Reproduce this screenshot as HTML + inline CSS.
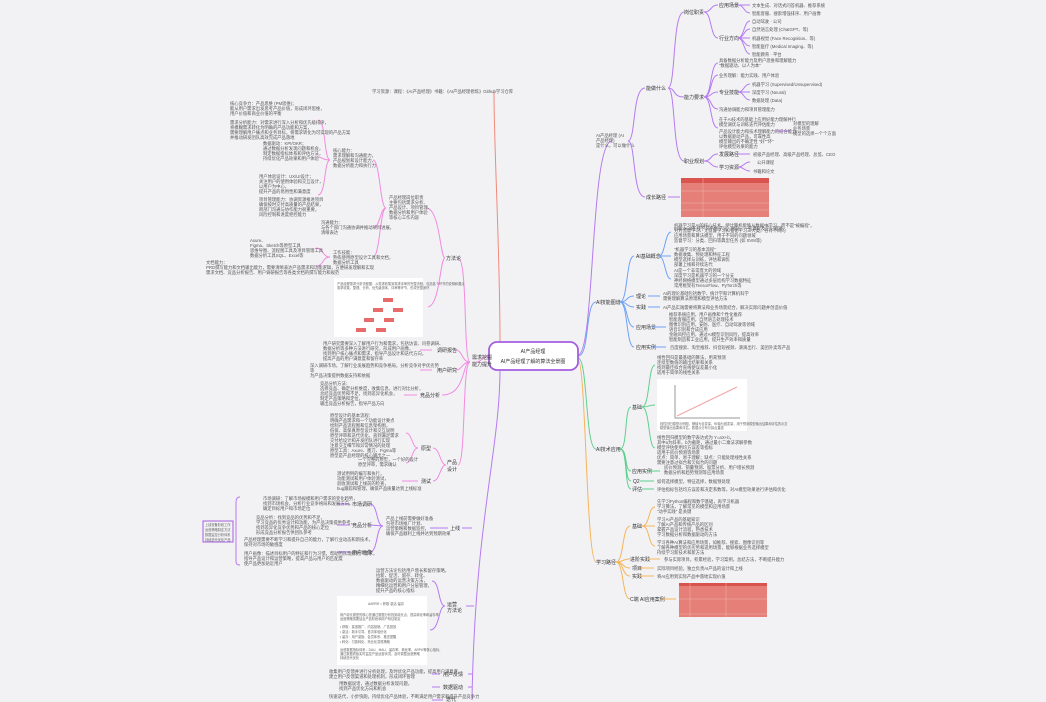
<!DOCTYPE html>
<html><head><meta charset="utf-8"><style>
html,body{margin:0;padding:0;background:#f2f2f5;}
svg{display:block}
.t{font-family:"Liberation Sans","Noto Sans CJK SC",sans-serif;font-size:8.6px;fill:#555}
.s{font-family:"Liberation Sans","Noto Sans CJK SC",sans-serif;font-size:6.4px;fill:#666}
.n{font-family:"Liberation Sans","Noto Sans CJK SC",sans-serif;font-size:10px;fill:#333}
path{fill:none;stroke-width:1}
.p{stroke:#b57bf0}.k{stroke:#f28be0}.b{stroke:#6fa3f5}.g{stroke:#5fd08e}.o{stroke:#f5b55a}.r{stroke:#f08a7a}
</style></head><body>
<svg width="1046" height="702" viewBox="0 0 1046 702" xmlns="http://www.w3.org/2000/svg">
<path class="r" d="M500 343 C500 250 494 150 494 92" stroke-width="1.3"/>
<path class="p" d="M578 355 C595 355 590 141 612 141" stroke-width="1.3"/>
<path class="b" d="M578 356 C590 356 585 302 596 302" stroke-width="1.3"/>
<path class="g" d="M578 358 C588 358 585 449 596 449" stroke-width="1.3"/>
<path class="o" d="M578 360 C586 360 586 562 596 562" stroke-width="1.3"/>
<path class="k" d="M490 356 C482 356 482 362 476 362" stroke-width="1.3"/>
<path class="p" d="M500 369 C500 450 475 520 472 700" stroke-width="1.3"/>
<rect x="489" y="342" width="89" height="28" rx="8" fill="#fff" stroke="#a55ee0" stroke-width="1.8"/>
<text class="n" text-anchor="middle" transform="translate(533,353) scale(.5)">AI产品经理</text>
<text class="n" text-anchor="middle" transform="translate(533,363) scale(.5)">AI产品经理了解的算法全景图</text>
<text class="t" transform="translate(372,93) scale(.5)">学习资源：课程：《AI产品经理》书籍：《AI产品经理修炼》Github学习仓库</text>

<!-- RIGHT PURPLE -->
<text class="t" transform="translate(596,137) scale(.5)">AI产品经理 (AI</text><text class="t" transform="translate(596,142) scale(.5)">产品经理)</text><text class="t" transform="translate(596,147) scale(.5)">是什么，可以做什么</text>
<path class="p" d="M628 141 C636 141 632 88 645 88"/>
<path class="p" d="M628 141 C636 141 632 197 645 197"/>
<text class="n" transform="translate(646,90) scale(.5)">能做什么</text>
<text class="n" transform="translate(646,199) scale(.5)">成长路径</text>
<path class="p" d="M668 88 C676 88 672 12 684 12"/>
<path class="p" d="M668 88 C676 88 672 97 684 97"/>
<path class="p" d="M668 88 C676 88 672 161 684 161"/>
<path class="p" d="M668 197 L680 197"/>
<text class="n" transform="translate(684,14) scale(.5)">岗位职责</text><text class="n" transform="translate(684,99) scale(.5)">能力要求</text><text class="n" transform="translate(684,163) scale(.5)">职业规划</text>
<path class="p" d="M704 12 C712 12 710 5 718 5"/><path class="p" d="M704 12 C712 12 710 38 718 38"/>
<text class="n" transform="translate(719,7) scale(.5)">应用场景</text><text class="n" transform="translate(719,40) scale(.5)">行业方向</text>
<path class="p" d="M738 5 C744 5 744 5 750 5"/><path class="p" d="M738 5 C744 5 744 13 750 13"/>
<text class="t" transform="translate(752,7) scale(.5)">文本生成、对话式问答机器、推荐系统</text><text class="t" transform="translate(752,15) scale(.5)">智能客服、搜索增强排序、用户画像</text>
<path class="p" d="M738 38 C744 38 744 21 750 21"/><path class="p" d="M738 38 C744 38 744 29 750 29"/><path class="p" d="M738 38 C744 38 744 38 750 38"/><path class="p" d="M738 38 C744 38 744 46 750 46"/><path class="p" d="M738 38 C744 38 744 54 750 54"/>
<text class="t" transform="translate(752,23) scale(.5)">自动驾驶 · 公司</text><text class="t" transform="translate(752,31) scale(.5)">自然语言处理 (ChatGPT、等)</text><text class="t" transform="translate(752,40) scale(.5)">机器视觉 (Face Recognition、等)</text><text class="t" transform="translate(752,48) scale(.5)">智能医疗 (Medical Imaging、等)</text><text class="t" transform="translate(752,56) scale(.5)">智能教育 · 平台</text>
<path class="p" d="M704 97 C712 97 710 63 718 63"/><path class="p" d="M704 97 C712 97 710 75 718 75"/><path class="p" d="M704 97 C712 97 710 92 718 92"/><path class="p" d="M704 97 C712 97 710 109 718 109"/><path class="p" d="M704 97 C712 97 710 128 718 128"/>
<text class="t" transform="translate(719,62) scale(.5)">具备数据分析能力及用户思维和理解能力</text><text class="t" transform="translate(719,67) scale(.5)">"数据驱动、以人为本"</text>
<text class="t" transform="translate(719,77) scale(.5)">业务理解：能力实践、用户体验</text>
<text class="n" transform="translate(719,94) scale(.5)">专业技能</text>
<path class="p" d="M738 92 C744 92 744 84 750 84"/><path class="p" d="M738 92 C744 92 744 92 750 92"/><path class="p" d="M738 92 C744 92 744 100 750 100"/>
<text class="t" transform="translate(752,86) scale(.5)">机器学习 (Supervised/Unsupervised)</text><text class="t" transform="translate(752,94) scale(.5)">深度学习 (Neural)</text><text class="t" transform="translate(752,102) scale(.5)">数据处理 (Data)</text>
<text class="t" transform="translate(719,111) scale(.5)">沟通协调能力和项目管理能力</text>
<text class="t" transform="translate(719,121) scale(.5)">在于AI技术的基础上应用好能力理解并行</text><text class="t" transform="translate(719,126) scale(.5)">模型调优与训练迭代评估能力</text>
<text class="t" transform="translate(719,133) scale(.5)">产品设计能力和技术理解能力的结合能力</text><text class="t" transform="translate(719,138) scale(.5)">以数据驱动产品，可靠性高</text><text class="t" transform="translate(719,143) scale(.5)">模型输出的不确定性 "好""坏"</text><text class="t" transform="translate(719,148) scale(.5)">评估模型效果的能力</text>
<path class="p" d="M775 131 L790 131"/>
<text class="t" transform="translate(793,125) scale(.5)">对模型的理解</text><text class="t" transform="translate(793,130) scale(.5)">业务场景</text><text class="t" transform="translate(793,135) scale(.5)">模型的选择一个个方面</text>
<path class="p" d="M704 161 C712 161 710 154 718 154"/><path class="p" d="M704 161 C712 161 710 167 718 167"/>
<text class="n" transform="translate(719,156) scale(.5)">发展路径</text><text class="n" transform="translate(719,169) scale(.5)">学习资源</text>
<path class="p" d="M738 154 L750 154"/><text class="t" transform="translate(753,156) scale(.5)">初级产品经理、高级产品经理、总监、CEO</text>
<path class="p" d="M738 167 C744 167 744 162 750 162"/><path class="p" d="M738 167 C744 167 744 171 750 171"/>
<text class="t" transform="translate(757,164) scale(.5)">公开课程</text><text class="t" transform="translate(753,173) scale(.5)">书籍和论文</text>
<rect x="681" y="178" width="88" height="39" fill="#e57f78"/>
<rect x="681" y="178" width="88" height="5" fill="#d9534f"/>
<line x1="681" y1="191" x2="769" y2="191" stroke="#f3b3ae" stroke-width=".5"/><line x1="681" y1="203" x2="769" y2="203" stroke="#f3b3ae" stroke-width=".5"/><line x1="681" y1="210" x2="769" y2="210" stroke="#f3b3ae" stroke-width=".5"/>
<line x1="703" y1="178" x2="703" y2="217" stroke="#f3b3ae" stroke-width=".5"/>
<text class="t" transform="translate(674,230) scale(.5)">Exponent在线学习平台学习，网站，一些课程及学习资源</text>

<!-- BLUE -->
<text class="n" transform="translate(596,304) scale(.5)">AI技能图谱</text>
<path class="b" d="M620 302 C628 302 626 256 634 256"/><path class="b" d="M620 302 C628 302 626 296 634 296"/><path class="b" d="M620 302 C628 302 626 307 634 307"/><path class="b" d="M620 302 C628 302 626 327 634 327"/><path class="b" d="M620 302 C628 302 626 347 634 347"/>
<text class="n" transform="translate(636,258) scale(.5)">AI基础概念</text><text class="n" transform="translate(636,298) scale(.5)">理论</text><text class="n" transform="translate(636,309) scale(.5)">实践</text><text class="n" transform="translate(636,329) scale(.5)">应用场景</text><text class="n" transform="translate(636,349) scale(.5)">应用实例</text>
<path class="b" d="M659 256 C665 256 665 232 671 232"/><path class="b" d="M659 256 C665 256 665 256 671 256"/><path class="b" d="M659 256 C665 256 665 279 671 279"/>
<text class="t" transform="translate(674,227) scale(.5)">机器学习是AI的核心技术，使计算机能够从数据中学习，而不是"被编程"，</text><text class="t" transform="translate(674,232) scale(.5)">分为监督学习、无监督学习和强化学习三大类，各有不同的</text><text class="t" transform="translate(674,237) scale(.5)">应用场景和算法模型，用于不同的问题领域</text><text class="t" transform="translate(674,242) scale(.5)">监督学习：分类、回归等典型任务 (如 SVM等)</text>
<text class="t" transform="translate(674,251) scale(.5)">"机器学习的基本流程"</text><text class="t" transform="translate(674,256) scale(.5)">数据收集、预处理和特征工程</text><text class="t" transform="translate(674,261) scale(.5)">模型选择与训练，评估和调优</text><text class="t" transform="translate(674,266) scale(.5)">部署上线和持续迭代</text>
<text class="t" transform="translate(674,272) scale(.5)">AI是一个非常庞大的领域</text><text class="t" transform="translate(674,277) scale(.5)">深度学习是机器学习的一个分支</text><text class="t" transform="translate(674,282) scale(.5)">神经网络模型通过多层结构学习数据特征</text><text class="t" transform="translate(674,287) scale(.5)">常用框架有TensorFlow、PyTorch等</text>
<path class="b" d="M648 296 L660 296"/><text class="t" transform="translate(663,295) scale(.5)">AI的理论基础包括数学、统计学和计算机科学</text><text class="t" transform="translate(663,300) scale(.5)">需要理解算法原理和模型评估方法</text>
<path class="b" d="M648 307 L660 307"/><text class="t" transform="translate(663,309) scale(.5)">AI产品实践需要将算法和业务场景结合，解决实际问题并创造价值</text>
<path class="b" d="M652 327 L666 327"/>
<text class="t" transform="translate(669,316) scale(.5)">推荐系统应用，用户画像和个性化推荐</text><text class="t" transform="translate(669,321) scale(.5)">智能客服应用，自然语言处理技术</text><text class="t" transform="translate(669,326) scale(.5)">图像识别应用，安防、医疗、自动驾驶等领域</text><text class="t" transform="translate(669,331) scale(.5)">语音识别和合成应用</text><text class="t" transform="translate(669,336) scale(.5)">金融风控应用，通过AI模型识别风险，提高效率</text><text class="t" transform="translate(669,341) scale(.5)">智能制造和工业应用，提升生产效率和质量</text>
<path class="b" d="M652 347 L666 347"/><text class="t" transform="translate(670,349) scale(.5)">百度搜索、淘宝推荐、抖音短视频、滴滴出行、美团外卖等产品</text>

<!-- GREEN -->
<text class="n" transform="translate(596,451) scale(.5)">AI技术应用</text>
<path class="g" d="M620 449 C628 449 624 407 631 407"/><path class="g" d="M620 449 C628 449 624 471 631 471"/><path class="g" d="M620 449 C628 449 624 481 631 481"/><path class="g" d="M620 449 C628 449 624 489 631 489"/>
<text class="n" transform="translate(632,409) scale(.5)">基础</text><text class="n" transform="translate(632,473) scale(.5)">应用实例</text><text class="n" transform="translate(633,483) scale(.5)">Q2</text><text class="n" transform="translate(632,491) scale(.5)">评估</text>
<path class="g" d="M642 407 C650 407 648 365 655 365"/><path class="g" d="M642 407 C650 407 648 405 655 405"/><path class="g" d="M642 407 C650 407 648 448 655 448"/>
<text class="t" transform="translate(657,359) scale(.5)">线性回归是最基础的算法，用来预测</text><text class="t" transform="translate(657,364) scale(.5)">连续型数值的输出结果和关系</text><text class="t" transform="translate(657,369) scale(.5)">找到最佳拟合直线使误差最小化</text><text class="t" transform="translate(657,374) scale(.5)">适用于简单的线性关系</text>
<rect x="657" y="379" width="90" height="52" fill="#fff"/>
<path d="M675 385 L675 418 L740 418" stroke="#999" stroke-width=".5" fill="none"/>
<path d="M677 416 L737 387" stroke="#f4a3a3" stroke-width=".8" fill="none"/>
<text class="s" transform="translate(660,425) scale(.5)">线性回归模型示例图，横轴为自变量，纵轴为因变量，用于预测模型输出结果和评估的示意</text>
<text class="s" transform="translate(660,429) scale(.5)">模型输出结果和评估，数据点分布与拟合直线</text>
<text class="t" transform="translate(657,439) scale(.5)">线性回归模型的数学表达式为 Y=aX+b，</text><text class="t" transform="translate(657,444) scale(.5)">其中a为斜率，b为截距，通过最小二乘法求解参数</text><text class="t" transform="translate(657,449) scale(.5)">模型评估使用均方误差等指标</text><text class="t" transform="translate(657,454) scale(.5)">适用于房价预测等场景</text><text class="t" transform="translate(657,459) scale(.5)">优点：简单、易于理解；缺点：只能处理线性关系</text><text class="t" transform="translate(657,464) scale(.5)">需要注意过拟合和欠拟合的问题</text>
<path class="g" d="M648 471 L660 471"/><text class="t" transform="translate(664,469) scale(.5)">房价预测、销量预测、股票分析、用户增长预测</text><text class="t" transform="translate(664,474) scale(.5)">数据分析和趋势预测等应用场景</text>
<path class="g" d="M640 481 L654 481"/><text class="t" transform="translate(657,483) scale(.5)">如何选择模型，特征选择，数据预处理</text>
<path class="g" d="M642 489 L654 489"/><text class="t" transform="translate(657,491) scale(.5)">评估指标包括均方误差和决定系数等，对AI模型效果进行评估和优化</text>

<!-- ORANGE -->
<text class="n" transform="translate(596,564) scale(.5)">学习路径</text>
<path class="o" d="M616 562 C624 562 622 526 630 526"/><path class="o" d="M616 562 C624 562 622 559 630 559"/><path class="o" d="M616 562 C624 562 622 568 630 568"/><path class="o" d="M616 562 C624 562 622 576 630 576"/><path class="o" d="M616 562 C624 562 622 599 630 599"/>
<text class="n" transform="translate(632,528) scale(.5)">基础</text><text class="n" transform="translate(630,561) scale(.5)">进阶实践</text><text class="n" transform="translate(632,570) scale(.5)">项目</text><text class="n" transform="translate(632,578) scale(.5)">实践</text><text class="n" transform="translate(630,601) scale(.5)">C端 AI应用案例</text>
<path class="o" d="M642 526 C650 526 648 507 655 507"/><path class="o" d="M642 526 C650 526 648 526 655 526"/><path class="o" d="M642 526 C650 526 648 546 655 546"/>
<text class="t" transform="translate(657,503) scale(.5)">先学习Python编程和数学基础，再学习机器</text><text class="t" transform="translate(657,508) scale(.5)">学习算法，了解常见的模型和应用场景</text><text class="t" transform="translate(657,513) scale(.5)">"动手实践" 是关键</text>
<text class="t" transform="translate(657,521) scale(.5)">学习AI产品的基础知识</text><text class="t" transform="translate(657,526) scale(.5)">了解AI产品和传统产品的区别</text><text class="t" transform="translate(657,531) scale(.5)">掌握产品设计流程，熟悉技术</text><text class="t" transform="translate(657,536) scale(.5)">学习数据分析和数据驱动的方法</text>
<text class="t" transform="translate(657,544) scale(.5)">学习各种AI算法和应用场景，如推荐、搜索、图像识别等</text><text class="t" transform="translate(657,549) scale(.5)">了解各种模型的优劣势和适用场景，能够根据业务选择模型</text><text class="t" transform="translate(657,554) scale(.5)">持续学习新技术和新方法</text>
<path class="o" d="M647 559 L660 559"/><text class="t" transform="translate(664,561) scale(.5)">参与实际项目，积累经验，学习案例，总结方法，不断提升能力</text>
<path class="o" d="M640 568 L654 568"/><text class="t" transform="translate(657,570) scale(.5)">实际项目经验，独立负责AI产品的设计和上线</text>
<path class="o" d="M640 576 L654 576"/><text class="t" transform="translate(657,578) scale(.5)">将AI应用到实际产品中落地实现价值</text>
<path class="o" d="M662 599 L676 599"/>
<rect x="679" y="583" width="88" height="34" fill="#e57f78"/>
<rect x="679" y="583" width="88" height="3" fill="#d9534f"/>
<line x1="679" y1="599" x2="767" y2="599" stroke="#f3b3ae" stroke-width=".5"/><line x1="679" y1="614" x2="767" y2="614" stroke="#f3b3ae" stroke-width=".5"/>
<line x1="690" y1="583" x2="690" y2="617" stroke="#f3b3ae" stroke-width=".5"/><line x1="726" y1="583" x2="726" y2="617" stroke="#f3b3ae" stroke-width=".5"/>

<!-- LEFT PINK -->
<text class="n" transform="translate(472,359) scale(.5)">需求挖掘</text><text class="n" transform="translate(472,366) scale(.5)">能力提升</text>
<path class="k" d="M470 362 C463 362 468 258 458 258"/>
<path class="k" d="M470 362 C462 362 462 350 456 350"/>
<path class="k" d="M470 362 C462 362 462 370 456 370"/>
<path class="k" d="M470 362 C462 362 466 395 442 395"/>
<path class="k" d="M470 362 C462 362 466 465 458 465"/>
<text class="n" transform="translate(446,260) scale(.5)">方法论</text>
<text class="n" transform="translate(437,352) scale(.5)">调研报告</text><text class="n" transform="translate(437,372) scale(.5)">用户研究</text><text class="n" transform="translate(420,397) scale(.5)">竞品分析</text>
<text class="n" transform="translate(447,464) scale(.5)">产品</text><text class="n" transform="translate(447,471) scale(.5)">设计</text>
<path class="k" d="M445 258 C440 258 440 208 426 208"/>
<path class="k" d="M445 258 C440 258 440 305 428 307"/>
<text class="t" transform="translate(389,199) scale(.5)">产品经理岗位职责</text><text class="t" transform="translate(389,204) scale(.5)">主要包括需求分析、</text><text class="t" transform="translate(389,209) scale(.5)">产品设计、项目管理、</text><text class="t" transform="translate(389,214) scale(.5)">数据分析和用户体验</text><text class="t" transform="translate(389,219) scale(.5)">等核心工作内容</text>
<path class="k" d="M386 208 C380 208 380 160 373 160"/><path class="k" d="M386 208 C380 208 380 228 373 228"/><path class="k" d="M386 208 C380 208 380 257 373 257"/>
<text class="t" transform="translate(333,152) scale(.5)">核心能力：</text><text class="t" transform="translate(333,157) scale(.5)">需求理解和沟通能力，</text><text class="t" transform="translate(333,162) scale(.5)">产品规划和设计能力，</text><text class="t" transform="translate(333,167) scale(.5)">数据分析能力和执行力</text>
<path class="k" d="M330 160 C324 160 326 120 318 120"/><path class="k" d="M330 160 C324 160 326 195 318 195"/><path class="k" d="M330 160 C322 160 322 157 318 157"/>
<text class="t" transform="translate(230,105) scale(.5)">核心竞争力：产品思维 (PM思维)；</text><text class="t" transform="translate(230,110) scale(.5)">能从用户需求出发思考产品价值，形成闭环思维，</text><text class="t" transform="translate(230,115) scale(.5)">用户价值和商业价值的平衡</text>
<text class="t" transform="translate(230,124) scale(.5)">需求分析能力：对需求进行深入分析和优先级排序，</text><text class="t" transform="translate(230,129) scale(.5)">将模糊需求转化为明确的产品功能和方案，</text><text class="t" transform="translate(230,134) scale(.5)">需要理解用户痛点和业务目标，将需求转化为可实现的产品方案</text><text class="t" transform="translate(230,139) scale(.5)">并推动研发团队高效完成产品落地</text>
<text class="t" transform="translate(263,145) scale(.5)">数据驱动：KPI/OKR；</text><text class="t" transform="translate(263,150) scale(.5)">通过数据分析发现问题和机会，</text><text class="t" transform="translate(263,155) scale(.5)">制定数据指标体系和评估方法，</text><text class="t" transform="translate(263,160) scale(.5)">持续优化产品效果和用户体验</text>
<text class="t" transform="translate(259,178) scale(.5)">用户体验设计：UX/UI设计；</text><text class="t" transform="translate(259,183) scale(.5)">关注用户的使用体验和交互设计，</text><text class="t" transform="translate(259,188) scale(.5)">以用户为中心，</text><text class="t" transform="translate(259,193) scale(.5)">提升产品的易用性和满意度</text>
<text class="t" transform="translate(259,201) scale(.5)">项目管理能力：协调资源推进项目</text><text class="t" transform="translate(259,206) scale(.5)">确保按时交付高质量的产品结果，</text><text class="t" transform="translate(259,211) scale(.5)">跨部门沟通与协作能力很重要，</text><text class="t" transform="translate(259,216) scale(.5)">风险控制和进度把控能力</text>
<text class="t" transform="translate(321,224) scale(.5)">沟通能力：</text><text class="t" transform="translate(321,229) scale(.5)">与各个部门沟通协调并推动项目进展，</text><text class="t" transform="translate(321,234) scale(.5)">清晰表达</text>
<text class="t" transform="translate(333,254) scale(.5)">工作技能：</text><text class="t" transform="translate(333,259) scale(.5)">熟练使用原型设计工具和文档，</text><text class="t" transform="translate(333,264) scale(.5)">数据分析工具</text>
<path class="k" d="M330 257 C322 257 324 248 316 248"/><path class="k" d="M330 257 C322 257 324 266 316 266"/>
<text class="t" transform="translate(250,242) scale(.5)">Axure、</text><text class="t" transform="translate(250,247) scale(.5)">Figma、Sketch等原型工具</text><text class="t" transform="translate(250,252) scale(.5)">思维导图、流程图工具及项目管理工具</text><text class="t" transform="translate(250,257) scale(.5)">数据分析工具SQL、Excel等</text>
<text class="t" transform="translate(206,264) scale(.5)">文档能力：</text><text class="t" transform="translate(206,269) scale(.5)">PRD撰写能力和文档输出能力，需要清晰表达产品需求和功能逻辑，方便研发理解和实现</text><text class="t" transform="translate(206,274) scale(.5)">需求文档、竞品分析报告、用户调研报告等各类文档的撰写能力和规范</text>
<rect x="334" y="278" width="89" height="59" fill="#fff"/>
<text class="s" transform="translate(337,285) scale(.5)">产品经理需求分析流程图：从需求收集到需求评审的完整流程，包括各个环节的说明和要点</text><text class="s" transform="translate(337,289) scale(.5)">需求收集、整理、分析、优先级排序、评审等环节，形成完整闭环</text>
<rect x="383" y="298" width="10" height="4" fill="#e86b6b"/><rect x="373" y="308" width="10" height="4" fill="#e86b6b"/><rect x="393" y="308" width="10" height="4" fill="#e86b6b"/><rect x="364" y="318" width="10" height="4" fill="#e86b6b"/><rect x="384" y="318" width="10" height="4" fill="#e86b6b"/><rect x="356" y="328" width="10" height="4" fill="#e86b6b"/><rect x="376" y="328" width="10" height="4" fill="#e86b6b"/>
<path class="k" d="M432 350 L420 350"/>
<text class="t" transform="translate(323,345) scale(.5)">用户研究需要深入了解用户行为和需求，包括访谈、问卷调研、</text><text class="t" transform="translate(323,350) scale(.5)">数据分析等多种方法进行研究，形成用户画像，</text><text class="t" transform="translate(323,355) scale(.5)">找到用户核心痛点和需求，指导产品设计和迭代方向，</text><text class="t" transform="translate(323,360) scale(.5)">提高产品的用户满意度和留存率</text>
<path class="k" d="M432 370 L420 370"/>
<text class="t" transform="translate(310,367) scale(.5)">深入调研市场，了解行业发展趋势和竞争格局，分析竞争对手优劣势</text><text class="t" transform="translate(310,372) scale(.5)">等</text><text class="t" transform="translate(310,377) scale(.5)">为产品决策提供数据支持和依据</text>
<path class="k" d="M417 395 L404 395"/>
<text class="t" transform="translate(320,385) scale(.5)">竞品分析方法：</text><text class="t" transform="translate(320,390) scale(.5)">选择竞品、确定分析维度，收集信息，进行对比分析，</text><text class="t" transform="translate(320,395) scale(.5)">总结竞品优势和不足，找到差异化机会，</text><text class="t" transform="translate(320,400) scale(.5)">制定产品策略和定位，</text><text class="t" transform="translate(320,405) scale(.5)">输出竞品分析报告，指导产品方向</text>
<path class="k" d="M446 465 C440 465 440 448 433 448"/><path class="k" d="M446 465 C440 465 440 481 433 481"/>
<text class="n" transform="translate(421,450) scale(.5)">原型</text><text class="n" transform="translate(421,483) scale(.5)">测试</text>
<path class="k" d="M418 448 C412 448 412 433 406 433"/><path class="k" d="M418 448 C412 448 412 463 406 463"/><path class="k" d="M418 481 L402 481"/>
<text class="t" transform="translate(330,417) scale(.5)">原型设计的基本流程：</text><text class="t" transform="translate(330,422) scale(.5)">明确产品需求和一个功能设计要点</text><text class="t" transform="translate(330,427) scale(.5)">绘制产品流程图和信息架构图，</text><text class="t" transform="translate(330,432) scale(.5)">低保、高保真原型设计和交互说明</text><text class="t" transform="translate(330,437) scale(.5)">原型评审和迭代优化，直到满足需求</text><text class="t" transform="translate(330,442) scale(.5)">交付给设计和开发团队进行实现</text><text class="t" transform="translate(330,447) scale(.5)">注意交互细节和异常情况的处理</text><text class="t" transform="translate(330,452) scale(.5)">原型工具：Axure、墨刀、Figma等</text><text class="t" transform="translate(330,457) scale(.5)">原型是产品经理的核心输出之一</text>
<text class="t" transform="translate(358,461) scale(.5)">一个完整的原型，一个好的设计</text><text class="t" transform="translate(358,466) scale(.5)">原型评审，需求确认</text>
<text class="t" transform="translate(337,475) scale(.5)">测试用例的编写和执行，</text><text class="t" transform="translate(337,480) scale(.5)">功能测试和用户体验测试，</text><text class="t" transform="translate(337,485) scale(.5)">验收测试和上线前的检查，</text><text class="t" transform="translate(337,490) scale(.5)">bug跟踪和管理，确保产品质量达到上线标准</text>

<!-- LEFT PURPLE -->
<path class="p" d="M472 528 L462 528"/><path class="p" d="M474 606 L466 606"/><path class="p" d="M472 674 L468 674"/><path class="p" d="M472 687 L468 687"/>
<text class="n" transform="translate(450,530) scale(.5)">上线</text>
<text class="n" transform="translate(447,606) scale(.5)">运营</text><text class="n" transform="translate(447,612) scale(.5)">方法论</text>
<text class="n" transform="translate(443,676) scale(.5)">用户反馈</text><text class="n" transform="translate(443,689) scale(.5)">数据驱动</text><text class="n" transform="translate(446,701) scale(.5)">迭代</text>
<path class="p" d="M448 528 L430 528"/>
<text class="t" transform="translate(386,520) scale(.5)">产品上线前需要做好准备</text><text class="t" transform="translate(386,525) scale(.5)">包括市场推广计划、</text><text class="t" transform="translate(386,530) scale(.5)">运营策略和数据监控，</text><text class="t" transform="translate(386,535) scale(.5)">确保产品顺利上线并达到预期效果</text>
<path class="p" d="M383 526 C376 526 378 504 370 504"/><path class="p" d="M383 526 L370 525"/><path class="p" d="M383 526 C376 526 378 552 370 552"/>
<text class="n" transform="translate(352,506) scale(.5)">市场调研</text><text class="n" transform="translate(352,527) scale(.5)">竞品分析</text><text class="n" transform="translate(352,554) scale(.5)">用户画像</text>
<path class="p" d="M350 504 L337 504"/><path class="p" d="M350 525 L337 525"/><path class="p" d="M350 552 L337 552"/>
<text class="t" transform="translate(263,500) scale(.5)">市场调研：了解市场规模和用户需求的变化趋势，</text><text class="t" transform="translate(263,505) scale(.5)">找到市场机会，分析行业竞争格局和发展方向，</text><text class="t" transform="translate(263,510) scale(.5)">确定目标用户和市场定位</text>
<text class="t" transform="translate(256,519) scale(.5)">竞品分析：找到竞品的优势和不足，</text><text class="t" transform="translate(256,524) scale(.5)">学习竞品的优秀设计和功能，为产品决策提供参考，</text><text class="t" transform="translate(256,529) scale(.5)">找到差异化竞争优势和产品的核心定位</text><text class="t" transform="translate(256,534) scale(.5)">形成竞品分析报告供团队参考</text>
<text class="t" transform="translate(244,541) scale(.5)">产品经理需要不断学习和提升自己的能力，了解行业动态和新技术，</text><text class="t" transform="translate(244,546) scale(.5)">保持对市场的敏感度</text>
<text class="t" transform="translate(244,555) scale(.5)">用户画像：描述目标用户的特征和行为习惯，帮助团队理解用户需求，</text><text class="t" transform="translate(244,560) scale(.5)">指导产品设计和运营策略，提高产品与用户的匹配度</text><text class="t" transform="translate(244,565) scale(.5)">使产品更加贴近用户</text>
<path class="p" d="M240 497 C236 497 236 500 236 505 L236 560 C236 563 236 565 240 565" />
<rect x="203" y="521" width="30" height="21" fill="none" stroke="#a55ee0" stroke-width="1"/>
<text class="s" transform="translate(205,526) scale(.5)">上线准备阶段工作</text><text class="s" transform="translate(205,531) scale(.5)">运营策略制定方法</text><text class="s" transform="translate(205,536) scale(.5)">数据监控分析体系</text><text class="s" transform="translate(205,541) scale(.5)">持续迭代优化产品</text>
<path class="p" d="M445 606 C438 606 440 581 432 581"/><path class="p" d="M445 606 C438 606 440 630 430 630"/>
<text class="t" transform="translate(376,572) scale(.5)">运营方法论包括用户增长和留存策略，</text><text class="t" transform="translate(376,577) scale(.5)">拉新、促活、留存、转化、</text><text class="t" transform="translate(376,582) scale(.5)">数据驱动的运营决策方法，</text><text class="t" transform="translate(376,587) scale(.5)">精细化运营和用户分层管理，</text><text class="t" transform="translate(376,592) scale(.5)">提升产品的核心指标</text>
<rect x="337" y="596" width="90" height="69" fill="#fff"/>
<text class="s" transform="translate(368,605) scale(.5)">AARRR = 获取·激活·留存</text>
<text class="s" transform="translate(340,616) scale(.5)">用户增长模型的核心是通过数据分析找到增长点，提高转化率和留存率</text><text class="s" transform="translate(340,620) scale(.5)">运营策略需要结合产品阶段和用户特征制定</text>
<text class="s" transform="translate(340,628) scale(.5)">• 获取：渠道推广、内容营销、广告投放</text><text class="s" transform="translate(340,633) scale(.5)">• 激活：新手引导、首次体验优化</text><text class="s" transform="translate(340,638) scale(.5)">• 留存：用户激励、会员体系、推送提醒</text><text class="s" transform="translate(340,643) scale(.5)">• 转化：付费转化、商业化变现策略</text>
<text class="s" transform="translate(340,651) scale(.5)">运营数据指标体系：DAU、MAU、留存率、转化率、ARPU等核心指标，</text><text class="s" transform="translate(340,655) scale(.5)">通过数据看板实时监控产品运营状况，及时调整运营策略</text><text class="s" transform="translate(340,659) scale(.5)">持续迭代优化</text>
<path class="p" d="M440 674 L432 674"/><path class="p" d="M440 687 L432 687"/><path class="p" d="M443 700 L432 700"/>
<text class="t" transform="translate(329,673) scale(.5)">收集用户反馈并进行分析处理，及时优化产品功能，提高用户满意度，</text><text class="t" transform="translate(329,678) scale(.5)">建立用户反馈渠道和处理机制，形成闭环管理</text>
<text class="t" transform="translate(339,685) scale(.5)">用数据说话，通过数据分析发现问题，</text><text class="t" transform="translate(339,690) scale(.5)">找到产品优化方向和机会</text>
<text class="t" transform="translate(329,698) scale(.5)">快速迭代，小步快跑，持续优化产品体验，不断满足用户需求和提升产品竞争力</text>
</svg>
</body></html>
